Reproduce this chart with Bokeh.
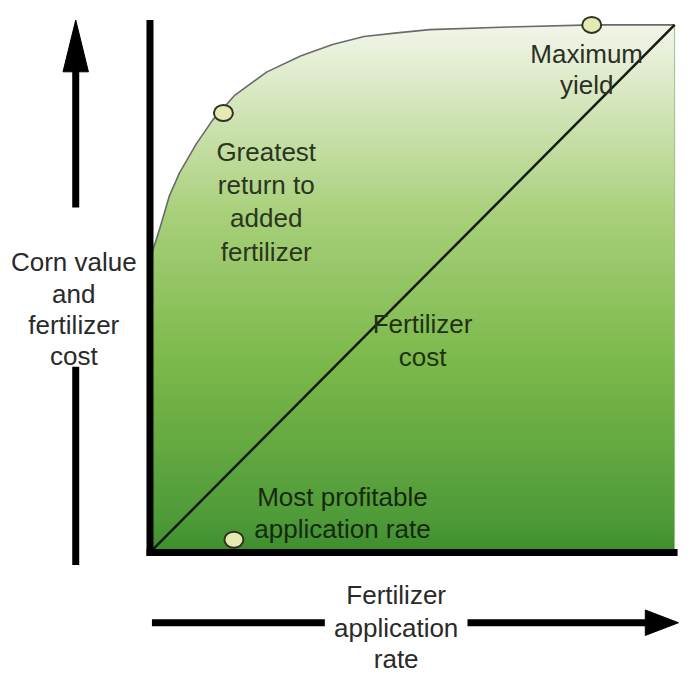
import numpy as np
from bokeh.plotting import figure
from bokeh.models import Range1d
from bokeh.core.properties import value
from bokeh.embed import file_html
from bokeh.resources import INLINE

# ---------------- data (conceptual units: 0-100 on both axes) ----------------
rate_curve = [0, 1.9, 3.7, 5.6, 8.8, 11.9, 16.2, 22.3, 28.7, 34.8, 40.8, 47.1, 53.3, 68.3, 84.4, 100]
corn_value = [55.6, 61.5, 67.6, 71.9, 77.4, 81.9, 86.7, 91.1, 94.1, 96.3, 97.8, 98.5, 99.1, 99.6, 100, 100]
cost_rate = [0, 100]
cost_value = [0, 100]
point_rate = [14.0, 84.2, 16.0]
point_value = [83.3, 100, 2.4]
point_names = ["Greatest return to added fertilizer", "Maximum yield", "Most profitable application rate"]

# ---------------- layout helpers (reference pixel -> data units) ----------------
X0, Y0, SX, SY = 153.0, 565.0, 5.37, 5.40
def dx(X):
    return (X - X0) / SX
def dy(Y):
    return (Y0 - Y) / SY

W, H = 679, 674
p = figure(width=W, height=H, x_range=Range1d(dx(0), dx(695)), y_range=Range1d(dy(690), dy(0)),
           output_backend="svg", toolbar_location=None, min_border=0,
           x_axis_type=None, y_axis_type=None)
p.grid.visible = False
p.outline_line_color = None
p.background_fill_color = "white"
p.border_fill_color = "white"

# ---------------- gradient fill (style) ----------------
stops_y = [0, 6.3, 36, 63.8, 93.5, 100]
stops_c = ["#3e8e2e", "#4f9b39", "#7cb94b", "#a8d07a", "#e6efd6", "#f2f6ea"]
def hex2rgb(h):
    return [int(h[i:i + 2], 16) for i in (1, 3, 5)]
rgb = np.array([hex2rgb(c) for c in stops_c], dtype=float)
nb = 160
edges = np.linspace(0, 100, nb + 1)
band = edges[1] - edges[0]
mids = (edges[:-1] + edges[1:]) / 2
cols = []
for m in mids:
    r = np.interp(m, stops_y, rgb[:, 0]); g = np.interp(m, stops_y, rgb[:, 1]); b = np.interp(m, stops_y, rgb[:, 2])
    cols.append("#%02x%02x%02x" % (int(r), int(g), int(b)))
tops = np.minimum(edges[1:] + band * 0.8, 100)
p.quad(left=[0] * nb, right=[max(cost_rate)] * nb, bottom=edges[:-1], top=tops,
       fill_color=cols, line_color=None)

# white area above the corn value curve
p.patch(rate_curve + [max(rate_curve), min(rate_curve)],
        corn_value + [101.5, 101.5], fill_color="white", line_color=None)

# thin right edge of the shaded box
p.segment(x0=[100], y0=[0], x1=[100], y1=[100], line_color="#9fbf86", line_width=1)

# corn value curve
p.line(rate_curve, corn_value, line_color="#6a6a6a", line_width=1.6)
# fertilizer cost line
p.line(cost_rate, cost_value, line_color="#141a10", line_width=2.5)

# axes lines
p.segment(x0=[0, -0.65], y0=[-0.65, 0], x1=[0, dx(693)], y1=[dy(20), 0],
          line_color="black", line_width=7)

# arrows: shafts
AX, AY = 77, 637
p.segment(x0=[dx(AX), dx(AX), dx(155), dx(478)], y0=[dy(212), dy(375), dy(AY), dy(AY)],
          x1=[dx(AX), dx(AX), dx(332), dx(662)], y1=[dy(70), dy(578), dy(AY), dy(AY)],
          line_color="black", line_width=7)
# arrow heads
p.patches(xs=[[dx(AX - 13), dx(AX), dx(AX + 13)], [dx(660), dx(694), dx(660)]],
          ys=[[dy(73), dy(20), dy(73)], [dy(AY - 13), dy(AY), dy(AY + 13)]],
          fill_color="black", line_color="black", line_width=1)

# highlighted points
p.ellipse(x=point_rate, y=point_value, width=19, height=16, width_units="screen", height_units="screen",
          fill_color="#e4eab2", line_color="#2e3322", line_width=2)

# ---------------- texts ----------------
FS = "26px"
FONT = value("Liberation Sans")
def lines(texts, X, baselines, color):
    p.text(x=[dx(X)] * len(texts), y=[dy(b) for b in baselines], text=texts,
           text_align="center", text_baseline="alphabetic", text_font=FONT,
           text_font_size=FS, text_color=color)

lines(["Greatest", "return to", "added", "fertilizer"], 272, [155, 189, 223, 257], "#2b3520")
lines(["Maximum", "yield"], 600, [55, 87], "#2b3025")
lines(["Fertilizer", "cost"], 432, [331, 365], "#1f3214")
lines(["Most profitable", "application rate"], 350, [508, 541], "#17290f")
lines(["Corn value", "and", "fertilizer", "cost"], 75, [268, 300, 332, 364], "#2a2a2a")
lines(["Fertilizer", "application", "rate"], 405, [609, 642, 674], "#2a2a2a")

open("out.html", "w").write(file_html(p, INLINE))
